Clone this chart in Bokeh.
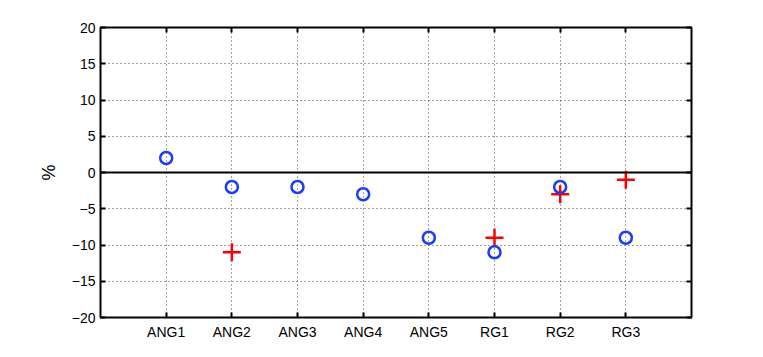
import numpy as np
from bokeh.plotting import figure
from bokeh.models import LinearAxis, FixedTicker, Span, Range1d
from bokeh.embed import file_html
from bokeh.resources import INLINE

categories = ["ANG1", "ANG2", "ANG3", "ANG4", "ANG5", "RG1", "RG2", "RG3"]
circle_vals = [2, -2, -2, -3, -9, -11, -2, -9]
cross_vals = [np.nan, -11, np.nan, np.nan, np.nan, -9, -3, -1]
y_ticks = [-20, -15, -10, -5, 0, 5, 10, 15, 20]

x = list(range(1, len(categories) + 1))

FONT = "Liberation Sans"

p = figure(width=750, height=345, output_backend="svg", toolbar_location=None,
           x_range=Range1d(0, 9), y_range=Range1d(-20, 20),
           x_axis_location=None, y_axis_location=None,
           min_border_left=100, min_border_right=59, min_border_top=27, min_border_bottom=28)
p.outline_line_color = "black"
p.outline_line_width = 2
p.background_fill_color = "white"
p.border_fill_color = "white"

def style_axis(ax, show_labels):
    ax.axis_line_color = None
    ax.major_tick_in = 5
    ax.major_tick_out = 0
    ax.major_tick_line_width = 2
    ax.major_tick_line_color = "black"
    ax.minor_tick_line_color = None
    ax.major_label_text_font = FONT
    ax.major_label_text_font_size = "14px"
    ax.major_label_text_color = "black"
    if not show_labels:
        ax.major_label_text_alpha = 0
        ax.major_label_text_font_size = "1px"
        ax.major_label_standoff = 0

xticker = FixedTicker(ticks=x)
yticker = FixedTicker(ticks=y_ticks)
xlabels = {xi: c for xi, c in zip(x, categories)}
ylabels = {t: (str(t).replace("-", "\u2212")) for t in y_ticks}

xb = LinearAxis(ticker=xticker, major_label_overrides=xlabels)
style_axis(xb, True)
xb.major_label_standoff = 6
p.add_layout(xb, "below")

xt = LinearAxis(ticker=xticker)
style_axis(xt, False)
p.add_layout(xt, "above")

yl = LinearAxis(ticker=yticker, major_label_overrides=ylabels, axis_label="%")
style_axis(yl, True)
yl.axis_label_text_font = FONT
yl.axis_label_text_font_size = "18px"
yl.axis_label_text_font_style = "normal"
yl.axis_label_text_color = "black"
yl.axis_label_standoff = 10
p.add_layout(yl, "left")

yr = LinearAxis(ticker=yticker)
style_axis(yr, False)
p.add_layout(yr, "right")

p.xgrid.ticker = xticker
p.ygrid.ticker = yticker
for g in (p.xgrid, p.ygrid):
    g.grid_line_color = "#444444"
    g.grid_line_dash = "1 3"
    g.grid_line_width = 1

p.add_layout(Span(location=0, dimension="width", line_color="black", line_width=2))

p.scatter(x, cross_vals, marker="cross", size=18, line_color="#ff0000", line_width=2.5)
p.scatter(x, circle_vals, marker="circle", size=12, fill_color=None,
          line_color="#1a3cff", line_width=2.5)

open("out.html", "w").write(file_html(p, INLINE))
